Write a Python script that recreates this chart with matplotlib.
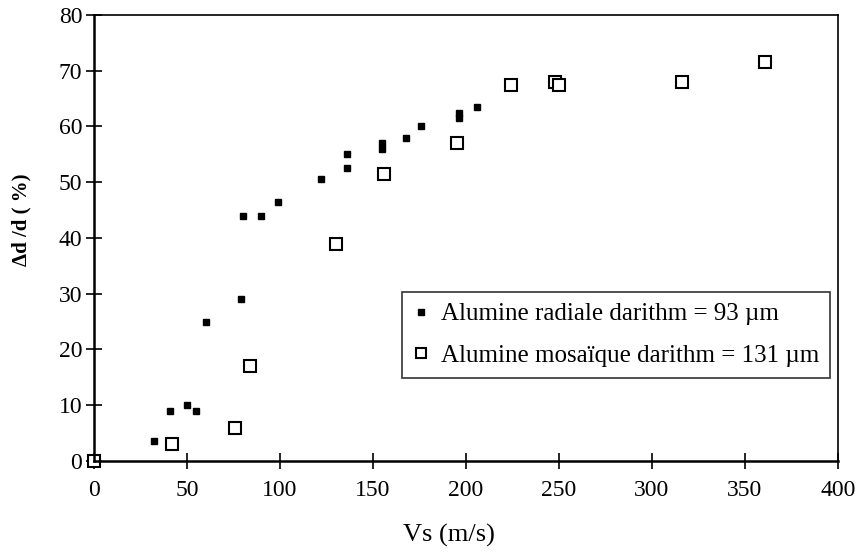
import numpy as np
import matplotlib
matplotlib.use("Agg")
import matplotlib.pyplot as plt

plt.rcParams['font.family'] = ['Liberation Serif', 'DejaVu Serif']

# Alumine radiale (filled squares)
radiale_vs = [32, 41, 50, 55, 60, 79, 80, 90, 99, 122, 136, 136, 155, 155, 168, 176, 196, 196, 206]
radiale_dd = [3.5, 9, 10, 9, 25, 29, 44, 44, 46.5, 50.5, 55, 52.5, 57, 56, 58, 60, 62.5, 61.5, 63.5]

# Alumine mosaique (open squares)
mosaique_vs = [0, 42, 76, 84, 130, 156, 195, 224, 248, 250, 316, 361]
mosaique_dd = [0, 3, 6, 17, 39, 51.5, 57, 67.5, 68, 67.5, 68, 71.5]

x_ticks = [0, 50, 100, 150, 200, 250, 300, 350, 400]
y_ticks = [0, 10, 20, 30, 40, 50, 60, 70, 80]


def main():
    fig = plt.figure(figsize=(8.58, 5.53), dpi=100)
    ax = fig.add_axes([0.1096, 0.1664, 0.867, 0.8065])

    ax.plot(radiale_vs, radiale_dd, linestyle='none', marker='s', markersize=5,
            color='black', label='Alumine radiale darithm = 93 µm')
    ax.plot(mosaique_vs, mosaique_dd, linestyle='none', marker='s', markersize=9,
            markerfacecolor='white', markeredgecolor='black', markeredgewidth=1.5,
            label='Alumine mosaïque darithm = 131 µm', clip_on=False)

    ax.set_xlim(0, 400)
    ax.set_ylim(0, 80)
    ax.set_xticks(x_ticks)
    ax.set_yticks(y_ticks)
    ax.tick_params(axis='both', direction='inout', length=11, width=1.2,
                   labelsize=17, top=False, right=False)
    ax.tick_params(axis='x', pad=8)
    ax.tick_params(axis='y', pad=3)
    for s in ax.spines.values():
        s.set_linewidth(1.2)
    ax.spines['left'].set_linewidth(1.8)
    ax.spines['bottom'].set_linewidth(1.8)

    ax.set_xlabel('Vs (m/s)', fontsize=19)
    ax.xaxis.set_label_coords(0.477, -0.14)
    ax.set_ylabel('Δd /d ( %)', fontsize=15, fontweight='bold')
    ax.yaxis.set_label_coords(-0.084, 0.54)

    leg = ax.legend(loc='upper left', bbox_to_anchor=(0.414, 0.38), fontsize=18,
                    frameon=True, fancybox=False, edgecolor='black',
                    handlelength=0.6, handletextpad=0.5, borderpad=0.45,
                    labelspacing=0.75, borderaxespad=0, markerscale=0.8)
    leg.get_frame().set_linewidth(1.2)

    fig.savefig('out.png', dpi=100)


if __name__ == '__main__':
    main()
